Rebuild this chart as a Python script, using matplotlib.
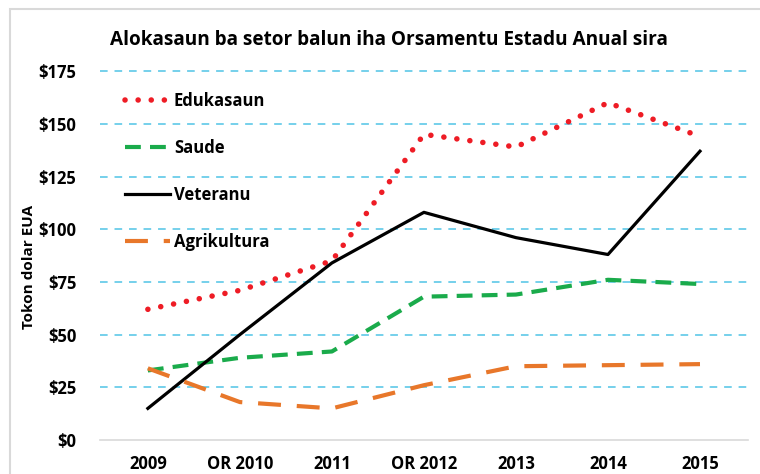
import matplotlib
matplotlib.use("Agg")
import matplotlib.pyplot as plt
from matplotlib.patches import Rectangle

years = ["2009", "OR 2010", "2011", "OR 2012", "2013", "2014", "2015"]
edukasaun = [62, 71, 85, 145, 139, 160, 144]
saude = [33, 39, 42, 68, 69, 76, 74]
veteranu = [15, 50, 84, 108, 96, 88, 137]
agrikultura = [34, 18, 15, 26, 35, 35.5, 36]
yticks = [0, 25, 50, 75, 100, 125, 150, 175]
ytick_labels = ["$0", "$25", "$50", "$75", "$100", "$125", "$150", "$175"]

plt.rcParams['font.family'] = ['Open Sans', 'DejaVu Sans']

fig = plt.figure(figsize=(7.6, 4.74), dpi=100)
ax = fig.add_axes([0.1316, 0.0717, 0.8524, 0.7783])

# outer frame of the chart
fig.patches.append(Rectangle((0.013, -0.01), 0.99, 0.99, transform=fig.transFigure,
                             fill=False, edgecolor="#d9d9d9", lw=1.5))

x = list(range(len(years)))
ax.plot(x, edukasaun, color="#ee1c25", lw=4.0, linestyle=(0, (0.01, 2.35)),
        dash_capstyle="round", label="Edukasaun", zorder=3)
ax.plot(x, saude, color="#1aab4b", lw=3.0, linestyle=(0, (3.8, 2.2)),
        label="Saude", zorder=3)
ax.plot(x, veteranu, color="black", lw=2.3, label="Veteranu", zorder=3)
ax.plot(x, agrikultura, color="#e8772a", lw=3.0, linestyle=(0, (5.5, 3.8)),
        label="Agrikultura", zorder=3)

ax.set_xlim(-0.52, 6.52)
ax.set_ylim(0, 175)
ax.set_xticks(x)
ax.set_xticklabels(years, fontsize=12, fontweight="bold")
ax.set_yticks(yticks)
ax.set_yticklabels(ytick_labels, fontsize=12, fontweight="bold")
ax.tick_params(length=0)
ax.tick_params(axis="y", pad=17)
ax.tick_params(axis="x", pad=11)

for v in yticks[1:]:
    ax.axhline(v, color="#4fc3e6", lw=1.1, linestyle=(0, (5, 4.5)), zorder=1,
               clip_on=False)
ax.axhline(0, color="#d9d9d9", lw=1.2, zorder=1, clip_on=False)

for s in ax.spines.values():
    s.set_visible(False)

ax.set_ylabel("Tokon dolar EUA", fontsize=11, fontweight="bold")
ax.yaxis.set_label_coords(-0.099, 0.47)
fig.text(0.512, 1 - 40 / 474,
         "Alokasaun ba setor balun iha Orsamentu Estadu Anual sira",
         fontsize=13.7, fontweight="bold", ha="center", va="center")

leg = ax.legend(loc="upper left", bbox_to_anchor=(0.015, 0.985), frameon=False,
                fontsize=12, handlelength=2.7, labelspacing=1.75,
                handletextpad=0.25)
for t in leg.get_texts():
    t.set_fontweight("bold")

fig.savefig("out.png", dpi=100)
